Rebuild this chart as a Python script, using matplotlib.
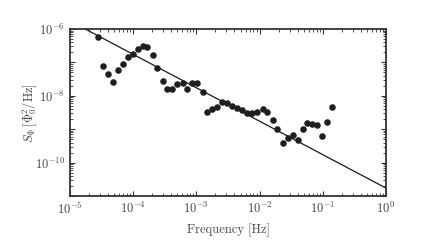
import matplotlib
matplotlib.use("Agg")
import matplotlib.pyplot as plt
import numpy as np

plt.rcParams['font.family'] = 'serif'
plt.rcParams['font.serif'] = ['cmr10', 'DejaVu Serif']
plt.rcParams['mathtext.fontset'] = 'cm'
plt.rcParams['axes.formatter.use_mathtext'] = True

# measured spectrum
freq = [2.81e-5, 3.29e-5, 4.04e-5, 4.84e-5, 5.81e-5, 6.82e-5, 8.18e-5, 9.82e-5,
        1.18e-4, 1.41e-4, 1.67e-4, 2.04e-4, 2.40e-4, 2.93e-4, 3.47e-4, 4.19e-4,
        4.99e-4, 6.07e-4, 7.18e-4, 8.61e-4, 1.03e-3, 1.26e-3, 1.49e-3, 1.79e-3,
        2.14e-3, 2.57e-3, 3.08e-3, 3.70e-3, 4.44e-3, 5.32e-3, 6.38e-3, 7.66e-3,
        9.20e-3, 1.12e-2, 1.32e-2, 1.61e-2, 1.92e-2, 2.32e-2, 2.81e-2, 3.37e-2,
        4.05e-2, 4.81e-2, 5.69e-2, 6.82e-2, 8.18e-2, 9.71e-2, 1.16e-1, 1.38e-1]
s_phi = [5.88e-7, 7.80e-8, 4.40e-8, 2.59e-8, 5.92e-8, 9.14e-8, 1.48e-7, 1.78e-7,
         2.52e-7, 3.10e-7, 2.83e-7, 1.67e-7, 6.66e-8, 2.77e-8, 1.55e-8, 1.63e-8,
         2.30e-8, 2.37e-8, 1.63e-8, 2.47e-8, 2.37e-8, 1.30e-8, 3.39e-9, 4.03e-9,
         4.62e-9, 6.65e-9, 5.96e-9, 4.95e-9, 4.31e-9, 3.68e-9, 3.12e-9, 2.99e-9,
         3.21e-9, 4.08e-9, 3.23e-9, 1.85e-9, 1.05e-9, 3.94e-10, 5.35e-10, 6.70e-10,
         4.75e-10, 9.93e-10, 1.50e-9, 1.46e-9, 1.36e-9, 6.12e-10, 1.64e-9, 4.62e-9]

# 1/f guide line
fit_amp = 1.74e-11
fit_exp = -1.0
fit_f = np.array([1e-5, 1.0])

fig = plt.figure(figsize=(4.36, 2.52), dpi=100)
ax = fig.add_axes([0.1606, 0.222, 0.7244, 0.663])

ax.plot(fit_f, fit_amp * fit_f ** fit_exp, color='#1a1a1a', lw=0.9)
ax.plot(freq, s_phi, 'o', color='#1e1e1e', ms=3.7, mec='#1e1e1e')

ax.set_xscale('log')
ax.set_yscale('log')
ax.set_xlim(1e-5, 1)
ax.set_ylim(1e-11, 1e-6)

yt = [1e-11, 1e-10, 1e-9, 1e-8, 1e-7, 1e-6]
ax.set_yticks(yt)
ax.set_yticklabels(['', r'$10^{-10}$', '', r'$10^{-8}$', '', r'$10^{-6}$'])
ax.set_xticks([1e-5, 1e-4, 1e-3, 1e-2, 1e-1, 1])
ax.set_xticklabels([r'$10^{-5}$', r'$10^{-4}$', r'$10^{-3}$', r'$10^{-2}$',
                    r'$10^{-1}$', r'$10^{0}$'])

ax.tick_params(which='both', direction='in', top=True, right=True,
               colors='#333333', labelcolor='#444444', labelsize=9)
ax.tick_params(which='major', length=3.5, width=0.8)
ax.tick_params(which='minor', length=2, width=0.6)
for sp in ax.spines.values():
    sp.set_linewidth(1.3)
    sp.set_color('#333333')

ax.set_xlabel('Frequency [Hz]', fontsize=9, color='#444444', labelpad=5)
ax.set_ylabel(r'$S_\Phi\,[\Phi_0^2/\mathrm{Hz}]$', fontsize=9, color='#444444',
              labelpad=-3)

fig.savefig('out.png', dpi=100)
